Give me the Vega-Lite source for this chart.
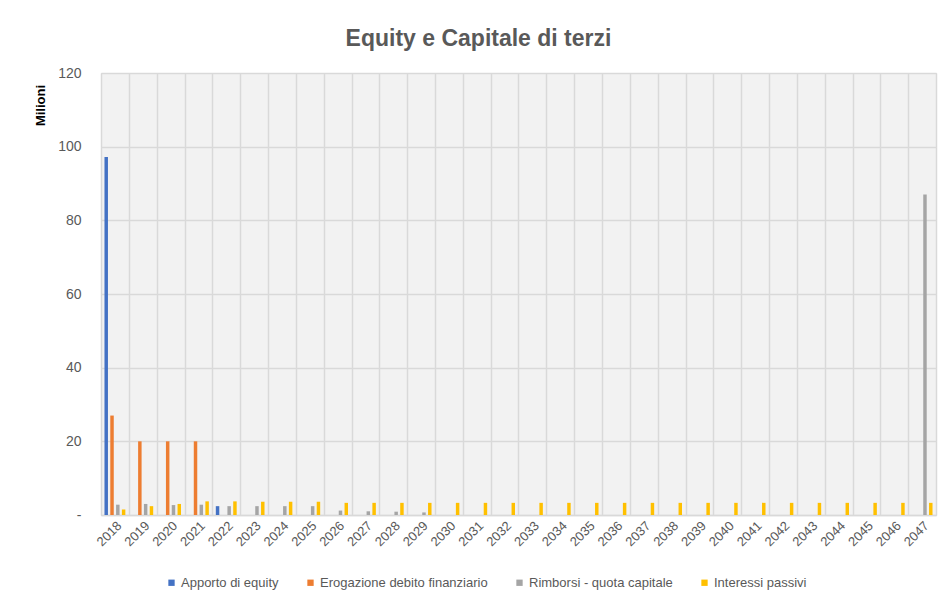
{
  "$schema": "https://vega.github.io/schema/vega-lite/v6.json",
  "width": 835,
  "height": 442,
  "autosize": {"type": "none"},
  "padding": {"left": 101, "top": 73, "right": 6, "bottom": 91},
  "background": "white",
  "config": {
    "font": "Liberation Sans, Arial",
    "view": {"fill": "#f2f2f2", "stroke": "#d9d9d9", "strokeWidth": 1}
  },
  "title": {
    "text": "Equity e Capitale di terzi",
    "fontSize": 23,
    "fontWeight": "bold",
    "color": "#595959",
    "anchor": "middle",
    "dx": -40,
    "offset": 15
  },
  "data": {
    "values": [
      {"anno": "2018", "serie": "Apporto di equity", "valore": 97.2},
      {"anno": "2022", "serie": "Apporto di equity", "valore": 2.4},
      {"anno": "2018", "serie": "Erogazione debito finanziario", "valore": 27.0},
      {"anno": "2019", "serie": "Erogazione debito finanziario", "valore": 20.0},
      {"anno": "2020", "serie": "Erogazione debito finanziario", "valore": 20.0},
      {"anno": "2021", "serie": "Erogazione debito finanziario", "valore": 20.0},
      {"anno": "2018", "serie": "Rimborsi - quota capitale", "valore": 2.8},
      {"anno": "2019", "serie": "Rimborsi - quota capitale", "valore": 3.0},
      {"anno": "2020", "serie": "Rimborsi - quota capitale", "valore": 2.7},
      {"anno": "2021", "serie": "Rimborsi - quota capitale", "valore": 2.8},
      {"anno": "2022", "serie": "Rimborsi - quota capitale", "valore": 2.4},
      {"anno": "2023", "serie": "Rimborsi - quota capitale", "valore": 2.4},
      {"anno": "2024", "serie": "Rimborsi - quota capitale", "valore": 2.4},
      {"anno": "2025", "serie": "Rimborsi - quota capitale", "valore": 2.4},
      {"anno": "2026", "serie": "Rimborsi - quota capitale", "valore": 1.2},
      {"anno": "2027", "serie": "Rimborsi - quota capitale", "valore": 1.0},
      {"anno": "2028", "serie": "Rimborsi - quota capitale", "valore": 0.9},
      {"anno": "2029", "serie": "Rimborsi - quota capitale", "valore": 0.7},
      {"anno": "2047", "serie": "Rimborsi - quota capitale", "valore": 87.0},
      {"anno": "2018", "serie": "Interessi passivi", "valore": 1.5},
      {"anno": "2019", "serie": "Interessi passivi", "valore": 2.4},
      {"anno": "2020", "serie": "Interessi passivi", "valore": 3.0},
      {"anno": "2021", "serie": "Interessi passivi", "valore": 3.7},
      {"anno": "2022", "serie": "Interessi passivi", "valore": 3.7},
      {"anno": "2023", "serie": "Interessi passivi", "valore": 3.6},
      {"anno": "2024", "serie": "Interessi passivi", "valore": 3.6},
      {"anno": "2025", "serie": "Interessi passivi", "valore": 3.6},
      {"anno": "2026", "serie": "Interessi passivi", "valore": 3.3},
      {"anno": "2027", "serie": "Interessi passivi", "valore": 3.3},
      {"anno": "2028", "serie": "Interessi passivi", "valore": 3.3},
      {"anno": "2029", "serie": "Interessi passivi", "valore": 3.3},
      {"anno": "2030", "serie": "Interessi passivi", "valore": 3.3},
      {"anno": "2031", "serie": "Interessi passivi", "valore": 3.3},
      {"anno": "2032", "serie": "Interessi passivi", "valore": 3.3},
      {"anno": "2033", "serie": "Interessi passivi", "valore": 3.3},
      {"anno": "2034", "serie": "Interessi passivi", "valore": 3.3},
      {"anno": "2035", "serie": "Interessi passivi", "valore": 3.3},
      {"anno": "2036", "serie": "Interessi passivi", "valore": 3.3},
      {"anno": "2037", "serie": "Interessi passivi", "valore": 3.3},
      {"anno": "2038", "serie": "Interessi passivi", "valore": 3.3},
      {"anno": "2039", "serie": "Interessi passivi", "valore": 3.3},
      {"anno": "2040", "serie": "Interessi passivi", "valore": 3.3},
      {"anno": "2041", "serie": "Interessi passivi", "valore": 3.3},
      {"anno": "2042", "serie": "Interessi passivi", "valore": 3.3},
      {"anno": "2043", "serie": "Interessi passivi", "valore": 3.3},
      {"anno": "2044", "serie": "Interessi passivi", "valore": 3.3},
      {"anno": "2045", "serie": "Interessi passivi", "valore": 3.3},
      {"anno": "2046", "serie": "Interessi passivi", "valore": 3.3},
      {"anno": "2047", "serie": "Interessi passivi", "valore": 3.3}
    ]
  },
  "mark": {"type": "bar"},
  "encoding": {
    "x": {
      "field": "anno",
      "type": "ordinal",
      "sort": "ascending",
      "scale": {"paddingInner": 0, "paddingOuter": 0},
      "axis": {
        "title": null,
        "labelAngle": -45,
        "labelFontSize": 13,
        "labelColor": "#595959",
        "labelPadding": 4,
        "ticks": false,
        "grid": true,
        "gridColor": "#d9d9d9",
        "gridWidth": 1.5,
        "tickBand": "extent",
        "domainColor": "#d9d9d9",
        "domainWidth": 1.5
      }
    },
    "xOffset": {
      "field": "serie",
      "type": "nominal",
      "sort": ["Apporto di equity", "Erogazione debito finanziario", "Rimborsi - quota capitale", "Interessi passivi"],
      "scale": {"paddingInner": 0.4, "paddingOuter": 0.6}
    },
    "y": {
      "field": "valore",
      "type": "quantitative",
      "scale": {"domain": [0, 120], "nice": false},
      "axis": {
        "values": [0, 20, 40, 60, 80, 100, 120],
        "labelExpr": "datum.value === 0 ? '-' : datum.label",
        "labelFontSize": 14,
        "labelColor": "#595959",
        "labelPadding": 20,
        "ticks": false,
        "domain": false,
        "grid": true,
        "gridColor": "#d9d9d9",
        "gridWidth": 1.5,
        "title": "Milioni",
        "titleFontSize": 13,
        "titleFontWeight": "bold",
        "titleColor": "#000000",
        "titleAngle": -90,
        "titleX": -61,
        "titleY": 32,
        "titleAlign": "center",
        "titleBaseline": "middle"
      }
    },
    "color": {
      "field": "serie",
      "type": "nominal",
      "sort": ["Apporto di equity", "Erogazione debito finanziario", "Rimborsi - quota capitale", "Interessi passivi"],
      "scale": {
        "domain": ["Apporto di equity", "Erogazione debito finanziario", "Rimborsi - quota capitale", "Interessi passivi"],
        "range": ["#4472C4", "#ED7D31", "#A5A5A5", "#FFC000"]
      },
      "legend": {
        "title": null,
        "orient": "none",
        "legendX": 64,
        "legendY": 503,
        "direction": "horizontal",
        "symbolType": "square",
        "symbolSize": 40,
        "symbolStrokeWidth": 0,
        "labelFontSize": 13,
        "labelColor": "#595959",
        "labelOffset": 3,
        "columnPadding": 25,
        "labelLimit": 300
      }
    }
  }
}
